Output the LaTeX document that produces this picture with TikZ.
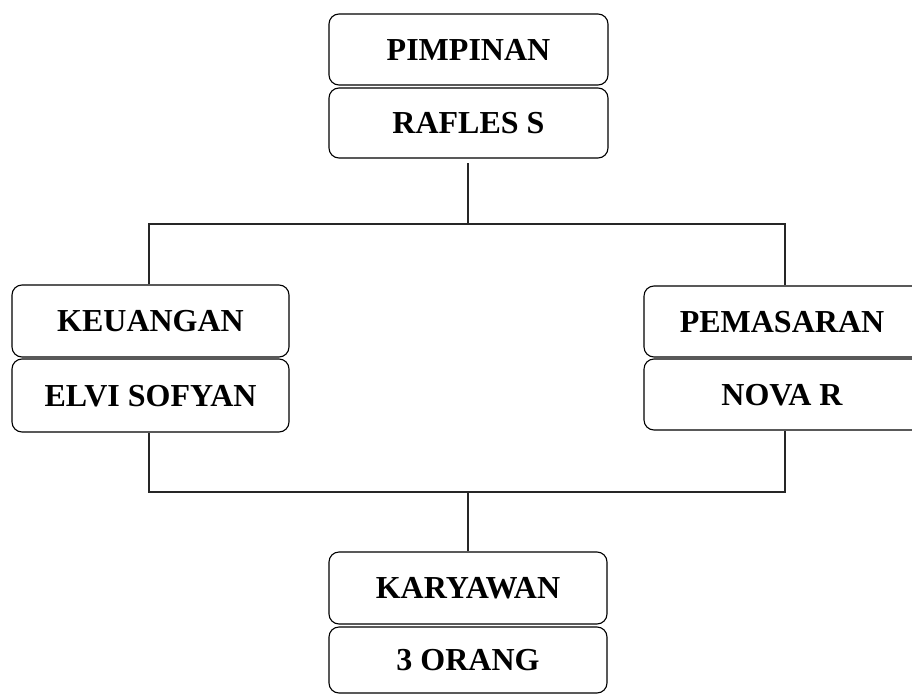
\documentclass[tikz,border=0pt]{standalone}
\usepackage{fontspec}
\setmainfont{Liberation Serif}
\begin{document}
\begin{tikzpicture}[x=1pt,y=-1pt,
  box/.style={draw=black,line width=1.1pt,rounded corners=10pt,inner sep=0pt,
    font=\fontsize{32}{38}\selectfont\bfseries,text height=21pt,text depth=0pt},
  link/.style={draw=black!85,line width=1.1pt}]
\useasboundingbox (0,0) rectangle (912,693);
\node[box,minimum width=279pt,minimum height=71pt] (pim) at (468.5,49.5) {PIMPINAN};
\node[box,minimum width=279pt,minimum height=70pt] (raf) at (468.5,123) {RAFLES S};
\node[box,minimum width=277pt,minimum height=72pt] (keu) at (150.5,321) {KEUANGAN};
\node[box,minimum width=277pt,minimum height=73pt] (elv) at (150.5,395.5) {ELVI SOFYAN};
\node[box,minimum width=290pt,minimum height=71pt] (pem) at (789,321.5) {PEMASARAN\hspace*{14pt}};
\node[box,minimum width=290pt,minimum height=71pt] (nov) at (789,394.5) {NOVA R\hspace*{14pt}};
\node[box,minimum width=278pt,minimum height=72pt] (kar) at (468,588) {KARYAWAN};
\node[box,minimum width=278pt,minimum height=66pt] (org) at (468,660) {3 ORANG};
\coordinate (jt) at (468,224);
\coordinate (jl) at (149,224);
\coordinate (jr) at (785,224);
\coordinate (bl) at (149,492);
\coordinate (br) at (785,492);
\coordinate (bc) at (468,492);
\coordinate (rs) at (468,163);
\draw[link] (rs) -- (jt);
\draw[link] (jl |- keu.north) -- (jl) -- (jr) -- (jr |- pem.north);
\draw[link] (bl |- elv.south) -- (bl) -- (br) -- (br |- nov.south);
\draw[link] (bc) -- (bc |- kar.north);
\end{tikzpicture}
\end{document}
